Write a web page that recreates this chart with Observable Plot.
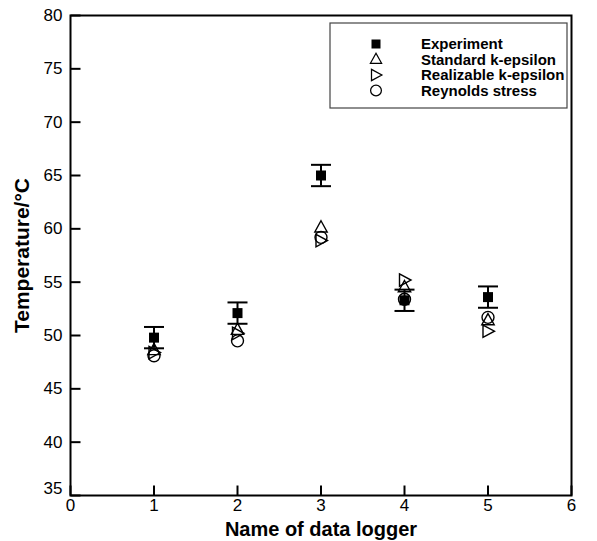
<!DOCTYPE html>
<html>
<head>
<meta charset="utf-8">
<script src="https://cdn.jsdelivr.net/npm/d3@7"></script>
<script src="https://cdn.jsdelivr.net/npm/@observablehq/plot@0.6"></script>
<style>
  html, body { margin: 0; padding: 0; background: #fff; }
  #chart { position: relative; width: 597px; height: 541px; }
</style>
</head>
<body>
<div id="chart"></div>
<script>
// Measured and simulated temperatures at each data logger
const loggers = [1, 2, 3, 4, 5];
const experiment = [49.8, 52.1, 65.0, 53.3, 53.6];
const experimentError = [1.0, 1.0, 1.0, 1.0, 1.0];
const standardKEpsilon = [48.6, 50.5, 60.1, 54.5, 51.4];
const realizableKEpsilon = [48.4, 50.2, 58.9, 55.2, 50.4];
const reynoldsStress = [48.1, 49.5, 59.2, 53.4, 51.7];

const seriesNames = ["Experiment", "Standard k-epsilon", "Realizable k-epsilon", "Reynolds stress"];
const xTicks = [0, 1, 2, 3, 4, 5, 6];
const yTicks = [35, 40, 45, 50, 55, 60, 65, 70, 75, 80];

// Marker shapes with fixed pixel geometry
const squareFilled = {draw(c) { c.rect(-5, -5, 10, 10); }};
const triangleUp = {draw(c) { c.moveTo(0, -7); c.lineTo(6.2, 4.2); c.lineTo(-6.2, 4.2); c.closePath(); }};
const triangleRight = {draw(c) { c.moveTo(-5, -6.2); c.lineTo(6.5, 0); c.lineTo(-5, 6.2); c.closePath(); }};
const circleOpen = {draw(c) { c.moveTo(6, 0); c.arc(0, 0, 6, 0, 2 * Math.PI); c.closePath(); }};
const errorCap = {draw(c) { c.moveTo(-10, 0); c.lineTo(10, 0); }};
const tickRight = {draw(c) { c.moveTo(0, 0); c.lineTo(10, 0); }};
const tickUp = {draw(c) { c.moveTo(0, 0); c.lineTo(0, -10); }};

const rows = loggers.map((x, i) => ({
  x,
  exp: experiment[i],
  lo: experiment[i] - experimentError[i],
  hi: experiment[i] + experimentError[i],
  ske: standardKEpsilon[i],
  rke: realizableKEpsilon[i],
  rsm: reynoldsStress[i]
}));

const font = "'Liberation Sans', Arial, Helvetica, sans-serif";

const plot = Plot.plot({
  width: 597,
  height: 541,
  marginLeft: 70,
  marginRight: 26,
  marginTop: 15,
  marginBottom: 46,
  style: {fontFamily: font, fontSize: "17px", color: "black", background: "white"},
  x: {domain: [0, 6]},
  y: {domain: [35, 80]},
  marks: [
    // tick labels
    Plot.axisX(xTicks, {tickSize: 0, tickPadding: 3, fontSize: 17, label: null}),
    Plot.axisY(yTicks.filter(t => t !== 35), {tickSize: 0, tickPadding: 8, fontSize: 17, label: null}),
    Plot.axisY([35], {tickSize: 0, tickPadding: 8, fontSize: 17, label: null, dy: -7}),
    // inward tick marks
    Plot.dot(yTicks, {x: 0, y: d => d, symbol: tickRight, stroke: "black", strokeWidth: 2}),
    Plot.dot(xTicks, {x: d => d, y: 35, symbol: tickUp, stroke: "black", strokeWidth: 2}),
    // axis titles
    Plot.text(["Temperature/°C"], {frameAnchor: "left", textAnchor: "middle", lineAnchor: "middle", rotate: -90, dx: -48, fontWeight: "bold", fontSize: 21}),
    Plot.text(["Name of data logger"], {frameAnchor: "bottom", textAnchor: "middle", lineAnchor: "middle", dy: 34, fontWeight: "bold", fontSize: 20}),
    // experimental error bars
    Plot.ruleX(rows, {x: "x", y1: "lo", y2: "hi", stroke: "black", strokeWidth: 2}),
    Plot.dot(rows, {x: "x", y: "lo", symbol: errorCap, stroke: "black", strokeWidth: 2}),
    Plot.dot(rows, {x: "x", y: "hi", symbol: errorCap, stroke: "black", strokeWidth: 2}),
    // series markers
    Plot.dot(rows, {x: "x", y: "exp", symbol: squareFilled, fill: "black", stroke: "none"}),
    Plot.dot(rows, {x: "x", y: "ske", symbol: triangleUp, fill: "none", stroke: "black", strokeWidth: 1.4}),
    Plot.dot(rows, {x: "x", y: "rke", symbol: triangleRight, fill: "none", stroke: "black", strokeWidth: 1.4}),
    Plot.dot(rows, {x: "x", y: "rsm", symbol: circleOpen, fill: "none", stroke: "black", strokeWidth: 1.4}),
    Plot.frame({stroke: "black", strokeWidth: 2})
  ]
});

document.getElementById("chart").appendChild(plot);

// Legend box inside the plotting area
const legendSymbols = [squareFilled, triangleUp, triangleRight, circleOpen];
const svg = d3.select(plot);
const lg = svg.append("g").attr("font-family", font).attr("text-anchor", "start");
lg.append("rect")
  .attr("x", 330).attr("y", 23).attr("width", 237).attr("height", 85)
  .attr("fill", "white").attr("stroke", "#444").attr("stroke-width", 1.2);
seriesNames.forEach((name, i) => {
  const y = 44 + i * 15.5;
  const p = d3.path();
  legendSymbols[i].draw(p, 0);
  lg.append("path")
    .attr("d", p.toString())
    .attr("transform", `translate(376,${y}) scale(0.9)`)
    .attr("fill", i === 0 ? "black" : "none")
    .attr("stroke", i === 0 ? "none" : "black")
    .attr("stroke-width", 1.4);
  lg.append("text")
    .attr("x", 421).attr("y", y)
    .attr("dy", "0.35em")
    .attr("text-anchor", "start")
    .attr("font-size", 15)
    .attr("font-weight", "bold")
    .attr("fill", "black")
    .text(name);
});
</script>
</body>
</html>
